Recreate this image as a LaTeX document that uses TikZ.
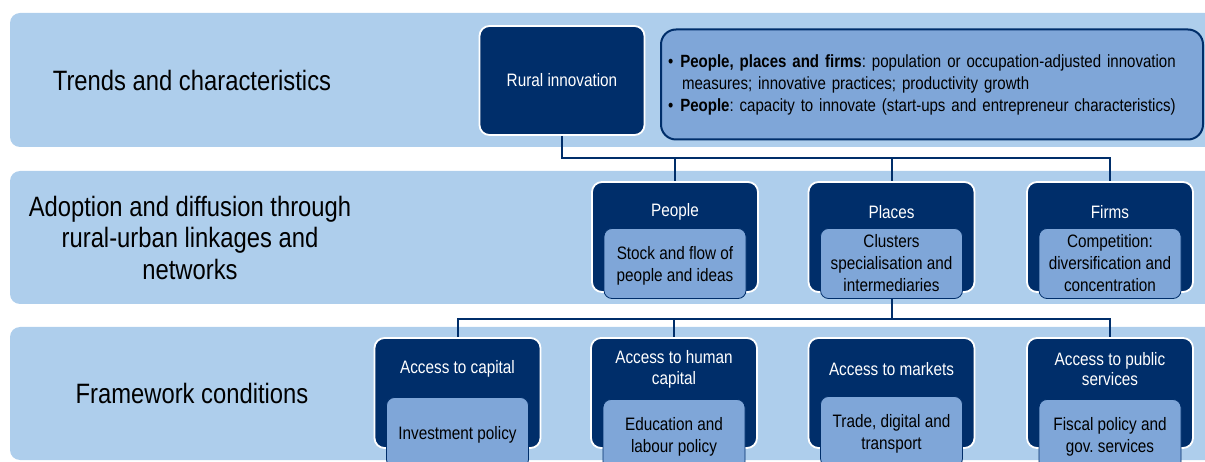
\documentclass[tikz,border=0pt]{standalone}
\usepackage{fontspec}
\setmainfont{Liberation Sans}[FakeStretch=0.85]
\usetikzlibrary{positioning}

\definecolor{bandblue}{RGB}{174,206,236}
\definecolor{navy}{RGB}{0,46,106}
\definecolor{midblue}{RGB}{127,166,216}

\tikzset{
  band/.style={fill=bandblue, rounded corners=10pt},
  bandlabel/.style={align=center, font=\fontsize{28}{31.5}\selectfont},
  darkbox/.style={fill=navy, draw=white, line width=1.8pt, rounded corners=10pt,
    minimum width=166pt, minimum height=110pt, inner sep=0pt},
  title/.style={text=white, align=center, font=\fontsize{18}{20.5}\selectfont},
  lightbox/.style={fill=midblue, draw=navy, line width=0.8pt, rounded corners=8pt,
    minimum width=142pt, minimum height=70pt, inner sep=0pt, align=center,
    font=\fontsize{18}{22}\selectfont},
  lowtext/.style={text depth=-4pt},
  infobox/.style={fill=midblue, draw=navy, line width=2pt, rounded corners=15pt,
    text width=528pt, inner xsep=7pt, minimum height=110pt, align=left,
    font=\fontsize{17.7}{22}\selectfont},
  link/.style={draw=navy, line width=2pt},
}

\begin{document}
\frenchspacing
\begin{tikzpicture}[x=1pt, y=-1pt]
    \useasboundingbox (0,0) rectangle (1205,462);
    \clip (0,0) rectangle (1205,462);

    % Background bands
    \fill[band] (10,13) rectangle (1220,147);
    \fill[band] (10,171) rectangle (1220,304);
    \fill[band] (10,327) rectangle (1220,460);

    % Band labels
    \node[bandlabel] (trends) at (192,80) {Trends and characteristics};
    \node[bandlabel] (adoption) at (190,237.5) {Adoption and diffusion through\\rural-urban linkages and\\networks};
    \node[bandlabel] (framework) at (192,393) {Framework conditions};

    % Trends row
    \node[darkbox, minimum width=165pt, minimum height=109pt, text=white,
      font=\fontsize{18}{20.5}\selectfont] (rural) at (562,80.5) {Rural innovation};
    \node[infobox] (info) at (932,84.5) {%
      \hangindent=14pt\hangafter=1\textbullet\hspace{7pt}\textbf{People, places and firms}: population or occupation-adjusted innovation\newline measures; innovative practices; productivity growth\par
      \hangindent=14pt\hangafter=1\textbullet\hspace{7pt}\textbf{People}: capacity to innovate (start-ups and entrepreneur characteristics)};

    % Adoption row
    \node[darkbox] (people) at (675,237) {};
    \node[title] (peopletitle) at (people.north) [yshift=-31pt] {People};
    \node[lightbox, lowtext, below=47pt of people.north] (peoplein) {Stock and flow of\\people and ideas};

    \node[darkbox] (places) at (891.5,237) {};
    \node[title] (placestitle) at (places.north) [yshift=-31pt] {Places};
    \node[lightbox, below=47pt of places.north] (placesin) {Clusters\\specialisation and\\intermediaries};

    \node[darkbox] (firms) at (1110,237) {};
    \node[title] (firmstitle) at (firms.north) [yshift=-31pt] {Firms};
    \node[lightbox, below=47pt of firms.north] (firmsin) {Competition:\\diversification and\\concentration};

    % Framework row
    \node[darkbox] (capital) at (457.5,393) {};
    \node[title] (capitaltitle) at (capital.north) [yshift=-32pt] {Access to capital};
    \node[lightbox, lowtext, below=60pt of capital.north] (capitalin) {Investment policy};

    \node[darkbox] (human) at (674,393) {};
    \node[title] (humantitle) at (human.north) [yshift=-32pt] {Access to human\\capital};
    \node[lightbox, lowtext, below=62pt of human.north] (humanin) {Education and\\labour policy};

    \node[darkbox] (markets) at (891.5,393) {};
    \node[title] (marketstitle) at (markets.north) [yshift=-32pt] {Access to markets};
    \node[lightbox, lowtext, below=59pt of markets.north] (marketsin) {Trade, digital and\\transport};

    \node[darkbox] (public) at (1110,393) {};
    \node[title] (publictitle) at (public.north) [yshift=-32pt] {Access to public\\services};
    \node[lightbox, lowtext, below=62pt of public.north] (publicin) {Fiscal policy and\\gov. services};

    % Connectors
    \draw[link] (rural.south) -- ++(0,22) coordinate (hubtop) -| (firms.north);
    \draw[link] (hubtop) -| (people.north);
    \draw[link] (hubtop) -| (places.north);

    \draw[link] (placesin.south) -- ++(0,20) coordinate (hubmid) -| (public.north);
    \draw[link] (hubmid) -| (capital.north);
    \draw[link] (hubmid) -| (human.north);
\end{tikzpicture}
\end{document}
